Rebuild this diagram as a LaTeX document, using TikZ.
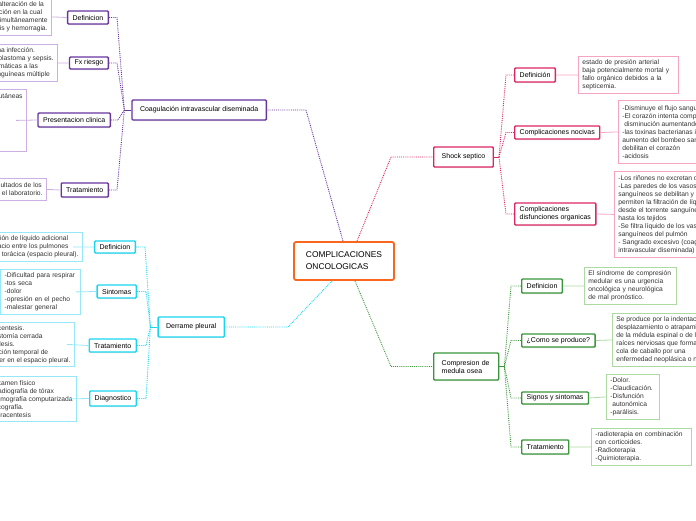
\documentclass[tikz,border=0pt]{standalone}
\usepackage{fontspec}
\setmainfont{Liberation Sans}
\usetikzlibrary{positioning,shadows}
\definecolor{cOra}{RGB}{250,102,28}
\definecolor{cPur}{RGB}{104,52,158}
\definecolor{cPurL}{RGB}{204,176,228}
\definecolor{cPnk}{RGB}{220,38,100}
\definecolor{cPnkL}{RGB}{246,164,194}
\definecolor{cGrn}{RGB}{58,150,58}
\definecolor{cGrnL}{RGB}{172,218,162}
\definecolor{cCya}{RGB}{24,214,240}
\definecolor{cCyaL}{RGB}{150,232,248}
\newcommand\fNodo{\fontsize{7}{8}\selectfont}
\newcommand\fDesc{\fontsize{6.7}{8}\selectfont}

\begin{document}
\begin{tikzpicture}[
  x=1pt, y=-1pt,
  raiz/.style  = {draw=cOra, line width=1.8pt, rounded corners=2pt, fill=white,
                  align=left, minimum width=100pt, minimum height=38pt,
                  font=\fontsize{8.4}{12}\selectfont},
  nd/.style    = {draw=#1, line width=1.4pt, rounded corners=1pt, fill=white,
                  inner xsep=5pt, inner ysep=2pt, minimum height=14pt, font=\fNodo,
                  drop shadow={shadow xshift=0.4pt, shadow yshift=-1pt, opacity=0.25}},
  tema/.style  = {nd=#1, inner xsep=8pt, minimum height=20pt},
  desc/.style  = {draw=#1, line width=0.8pt, fill=white, align=left,
                  inner xsep=4pt, inner ysep=2pt, font=\fDesc, text=black!80},
  br/.style    = {draw=#1, densely dotted, line width=0.9pt},
  stub/.style  = {draw=#1, line width=1pt},
  lnk/.style   = {draw=#1, line width=0.8pt}
]
\useasboundingbox (0,0) rectangle (696,520);
\clip (0,0) rectangle (696,520);

% ------------------------------------------------------------------ centro --
\node[raiz] (cen) at (344,261) {COMPLICACIONES\\ONCOLOGICAS};

% ------------------------------------------------------------------- temas --
\node[tema=cPur, anchor=east] (coag)  at (267,110)   {Coagulación intravascular diseminada};
\node[tema=cPnk, anchor=west] (shock) at (433,157)   {Shock septico};
\node[tema=cCya, anchor=east] (derr)  at (225,327)   {Derrame pleural};
\node[tema=cGrn, anchor=west, align=left, text width=49pt,
      minimum height=27pt]    (comp)  at (433,366.5) {Compresion de\\medula osea};

% -------------------------------------------------------- coagulacion (CID) --
\node[nd=cPur, anchor=east, minimum height=13pt] (defC)  at (109,17.5) {Definicion};
\node[nd=cPur, anchor=east, minimum height=12pt] (fx)    at (109,63)   {Fx riesgo};
\node[nd=cPur, anchor=east]                      (pres)  at (111,120)  {Presentacion clinica};
\node[nd=cPur, anchor=east]                      (tratC) at (109,190)  {Tratamiento};

\node[desc=cPurL, anchor=north east, minimum height=37pt] (dDefC) at (52,-2)
  {Es una alteración de la\\coagulación en la cual\\ocurre simultáneamente\\trombosis y hemorragia.};
\node[desc=cPurL, anchor=north east, minimum height=37pt] (dFx) at (58,44)
  {Tener sepsis o una infección.\\Leucemia, neuroblastoma y sepsis.\\Por lesiones traumáticas a las\\transfusiones sanguíneas múltiple};
\node[desc=cPurL, anchor=north east, minimum height=62pt] (dPres) at (27,89)
  {-Hemorragias cutáneas\\-Petequias\\-Equimosis\\-Hematomas\\-Sangrado\\-Trombosis\\-Gangrena};
\node[desc=cPurL, anchor=north east, minimum height=22pt] (dTratC) at (47,178)
  {Se basa en los resultados de los\\análisis hechos en el laboratorio.};

% ---------------------------------------------------------- derrame pleural --
\node[nd=cCya, anchor=east, minimum height=12pt] (defD)  at (136,247)   {Definicion};
\node[nd=cCya, anchor=east, minimum height=13pt] (sint)  at (137,291.5) {Sintomas};
\node[nd=cCya, anchor=east, minimum height=13pt] (tratD) at (137,345.5) {Tratamiento};
\node[nd=cCya, anchor=east, minimum height=15pt] (diag)  at (137,398.5) {Diagnostico};

\node[desc=cCyaL, anchor=north east, minimum height=29pt] (dDefD) at (83,232)
  {Acumulación de líquido adicional\\en el espacio entre los pulmones\\y la pared torácica (espacio pleural).};
\node[desc=cCyaL, anchor=north east, minimum height=45pt, text width=72pt] (dSint) at (81,269)
  {-Dificultad para respirar\\-tos seca\\-dolor\\-opresión en el pecho\\-malestar general};
\node[desc=cCyaL, anchor=north east, minimum height=44pt] (dTratD) at (75,322)
  {-Toracocentesis.\\-Toracostomía cerrada\\-Pleurodesis.\\-Colocación temporal de\\un catéter en el espacio pleural.};
\node[desc=cCyaL, anchor=north east, minimum height=45pt] (dDiag) at (77,376)
  {-Examen físico\\-Radiografía de tórax\\-Tomografía computarizada\\-Ecografía.\\-Toracentesis};

% ------------------------------------------------------------ shock septico --
\node[nd=cPnk, anchor=west]                      (defS)  at (514,75)    {Definición};
\node[nd=cPnk, anchor=west, minimum height=13pt] (compN) at (514,132.5) {Complicaciones nocivas};
\node[nd=cPnk, anchor=west, align=left,
      minimum height=22pt]                       (compD) at (514,214)   {Complicaciones\\disfunciones organicas};

\node[desc=cPnkL, anchor=north west, minimum height=37pt, text width=92pt] (dDefS) at (578,56)
  {estado de presión arterial\\baja potencialmente mortal y\\fallo orgánico debidos a la\\septicemia.};
\node[desc=cPnkL, anchor=north west, minimum height=63pt] (dCompN) at (618,100)
  {-Disminuye el flujo sanguíneo\\-El corazón intenta compensar la\\\hspace*{2pt}disminución aumentando el bombeo\\-las toxinas bacterianas impiden el\\aumento del bombeo sanguíneo y\\debilitan el corazón\\-acidosis};
\node[desc=cPnkL, anchor=north west, minimum height=86pt] (dCompD) at (614,171)
  {-Los riñones no excretan orina\\-Las paredes de los vasos\\sanguíneos se debilitan y\\permiten la filtración de líquido\\desde el torrente sanguíneo\\hasta los tejidos\\-Se filtra líquido de los vasos\\sanguíneos del pulmón\\- Sangrado excesivo (coagulación\\intravascular diseminada)};

% -------------------------------------------------- compresion medula osea --
\node[nd=cGrn, anchor=west]                      (defM)  at (521,286)   {Definicion};
\node[nd=cGrn, anchor=west, minimum height=13pt] (como)  at (521,340.5) {¿Como se produce?};
\node[nd=cGrn, anchor=west, minimum height=12pt] (sig)   at (521,398)   {Signos y sintomas};
\node[nd=cGrn, anchor=west]                      (tratM) at (521,447)   {Tratamiento};

\node[desc=cGrnL, anchor=north west, minimum height=37pt, text width=84pt] (dDefM) at (584,267)
  {El síndrome de compresión\\medular es una urgencia\\oncológica y neurológica\\de mal pronóstico.};
\node[desc=cGrnL, anchor=north west, minimum height=53pt] (dComo) at (612,313)
  {Se produce por la indentación,\\desplazamiento o atrapamiento\\de la médula espinal o de las\\raíces nerviosas que forman la\\cola de caballo por una\\enfermedad neoplásica o no.};
\node[desc=cGrnL, anchor=north west, minimum height=45pt, text width=45pt] (dSig) at (606,374)
  {-Dolor.\\-Claudicación.\\-Disfunción\\\hspace*{2pt}autonómica\\-parálisis.};
\node[desc=cGrnL, anchor=north west, minimum height=37pt, text width=92pt] (dTratM) at (591,428)
  {-radioterapia en combinación\\con corticoides.\\-Radioterapia\\-Quimioterapia.};

% ------------------------------------------------------------ ramas centro --
\draw[br=cPur] ([xshift=-1]cen.north) -- ([xshift=39]coag.east) -- (coag.east);
\draw[br=cPnk] ([xshift=13]cen.north) -- ([xshift=-42]shock.west) -- (shock.west);
\draw[br=cCya] ([xshift=-12]cen.south) -- ([xshift=63]derr.east) -- (derr.east);
\draw[br=cGrn] ([xshift=11]cen.south) -- ([xshift=-42]comp.west) -- (comp.west);

% --------------------------------------------------------------- subramas --
\coordinate (jCoag)  at ([xshift=-7]coag.west);
\coordinate (jDerr)  at ([xshift=-7]derr.west);
\coordinate (jShock) at ([xshift=5]shock.east);
\coordinate (jComp)  at ([xshift=5]comp.east);
\draw[stub=cPur] (coag.west) -- (jCoag);
\draw[stub=cCya] (derr.west) -- (jDerr);
\draw[stub=cPnk] (shock.east) -- (jShock);
\draw[stub=cGrn] (comp.east) -- (jComp);

\foreach \n in {defC, fx, tratC}
  \draw[br=cPur] (\n.east) -- ++(8,0) -- (jCoag);
\draw[br=cPur] (pres.east) -- ++(7,0) -- (jCoag);
\foreach \n in {defD, sint, tratD, diag}
  \draw[br=cCya] (\n.east) -- ++(9,0) -- (jDerr);
\foreach \n in {defS, compN, compD}
  \draw[br=cPnk] (\n.west) -- ++(-8,0) -- (jShock);
\foreach \n in {defM, como, sig, tratM}
  \draw[br=cGrn] (\n.west) -- ++(-10,0) -- (jComp);

% ------------------------------------------------------------ descripciones --
\draw[lnk=cPurL] (dDefC.east) -- (defC.west);
\draw[lnk=cPurL] (dFx.east) -- (fx.west);
\draw[lnk=cPurL] ([xshift=-11]dPres.east) -- (pres.west);
\draw[lnk=cPurL] (dTratC.east) -- (tratC.west);
\draw[lnk=cCyaL] ([xshift=-10]dDefD.east) -- (defD.west);
\draw[lnk=cCyaL] ([xshift=-5]dSint.east) -- (sint.west);
\draw[lnk=cCyaL] ([xshift=-8]dTratD.east) -- (tratD.west);
\draw[lnk=cCyaL] ([xshift=-9]dDiag.east) -- (diag.west);
\draw[lnk=cPnkL] (defS.east) -- (dDefS.west);
\draw[lnk=cPnkL] (compN.east) -- (dCompN.west);
\draw[lnk=cPnkL] (compD.east) -- (dCompD.west);
\draw[lnk=cGrnL] (defM.east) -- (dDefM.west);
\draw[lnk=cGrnL] (como.east) -- (dComo.west);
\draw[lnk=cGrnL] (sig.east) -- (dSig.west);
\draw[lnk=cGrnL] (tratM.east) -- (dTratM.west);

\end{tikzpicture}
\end{document}
